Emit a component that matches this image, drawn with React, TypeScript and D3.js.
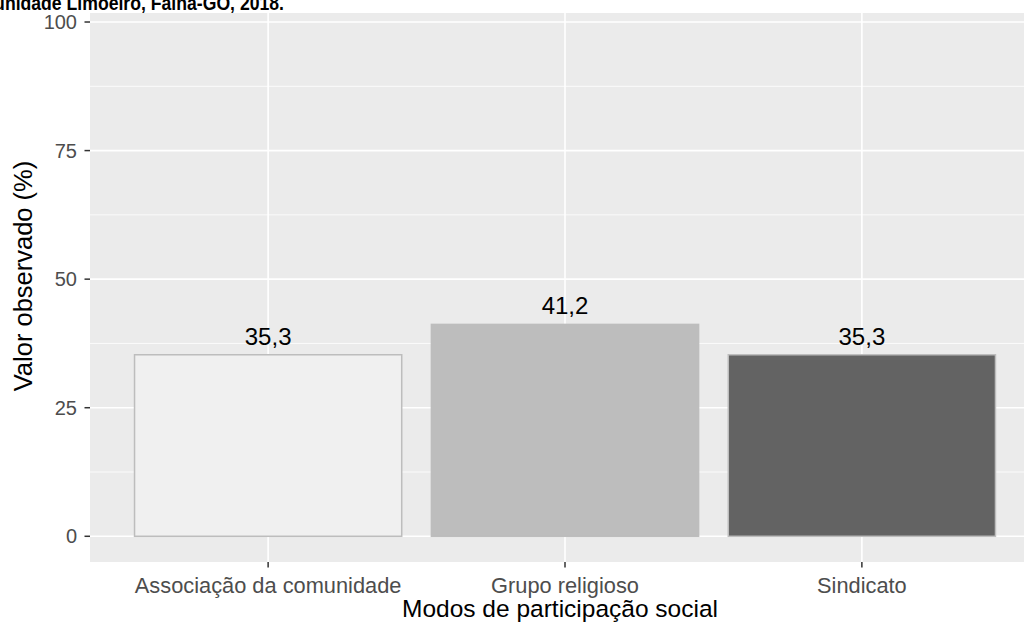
import React from "react";
import * as d3 from "d3";

const categories = ["Associação da comunidade", "Grupo religioso", "Sindicato"];
const values = [35.3, 41.2, 35.3];
const valueLabels = ["35,3", "41,2", "35,3"];
const fills = ["#f0f0f0", "#bdbdbd", "#636363"];
const yTicks = [0, 25, 50, 75, 100];
const yMinor = [12.5, 37.5, 62.5, 87.5];
const titleText = "comunidade Limoeiro, Faina-GO, 2018.";
const xTitle = "Modos de participação social";
const yTitle = "Valor observado (%)";

const W = 1024, H = 626;
const panelLeft = 90, panelRight = 1040, panelBottom = 562, panelTop = 13;

export default function App() {
  const x = d3.scaleBand<string>().domain(categories).range([panelLeft, panelRight]).paddingInner(0.1).paddingOuter(0.15);
  const y = d3.scaleLinear().domain([-5, 105]).range([panelBottom, -3.7]);
  const font = "'Liberation Sans', Arial, sans-serif";
  return (
    <svg width={W} height={H} style={{ position: "absolute", left: 0, top: 0, background: "#fff" }} fontFamily={font}>
      <rect x={panelLeft} y={panelTop} width={W - panelLeft} height={panelBottom - panelTop} fill="#ebebeb" />
      {yMinor.map(t => (
        <line key={"m" + t} x1={panelLeft} x2={W} y1={y(t)} y2={y(t)} stroke="#fff" strokeWidth={0.8} />
      ))}
      {yTicks.map(t => (
        <line key={"g" + t} x1={panelLeft} x2={W} y1={y(t)} y2={y(t)} stroke="#fff" strokeWidth={1.6} />
      ))}
      {categories.map(c => (
        <line key={"v" + c} x1={x(c)! + x.bandwidth() / 2} x2={x(c)! + x.bandwidth() / 2} y1={panelTop} y2={panelBottom} stroke="#fff" strokeWidth={1.6} />
      ))}
      {categories.map((c, i) => (
        <rect key={"b" + c} x={x(c)!} width={x.bandwidth()} y={y(values[i])} height={y(0) - y(values[i])} fill={fills[i]} stroke="#bdbdbd" strokeWidth={1.5} />
      ))}
      {categories.map((c, i) => (
        <text key={"l" + c} x={x(c)! + x.bandwidth() / 2} y={y(values[i]) - 10} textAnchor="middle" fontSize={24} fill="#000">{valueLabels[i]}</text>
      ))}
      {yTicks.map(t => (
        <g key={"t" + t}>
          <line x1={84.5} x2={panelLeft} y1={y(t)} y2={y(t)} stroke="#333" strokeWidth={1.5} />
          <text x={77} y={y(t)} dy="0.35em" textAnchor="end" fontSize={20} fill="#4d4d4d">{t}</text>
        </g>
      ))}
      {categories.map(c => (
        <g key={"xt" + c}>
          <line x1={x(c)! + x.bandwidth() / 2} x2={x(c)! + x.bandwidth() / 2} y1={panelBottom} y2={567.5} stroke="#333" strokeWidth={1.5} />
          <text x={x(c)! + x.bandwidth() / 2} y={592.5} textAnchor="middle" fontSize={21.8} fill="#4d4d4d">{c}</text>
        </g>
      ))}
      <text x={560} y={617} textAnchor="middle" fontSize={24.5} fill="#000">{xTitle}</text>
      <text transform={`translate(32, 276) rotate(-90)`} textAnchor="middle" fontSize={25.5} fill="#000">{yTitle}</text>
      <rect x={0} y={0} width={W} height={panelTop} fill="#fff" />
      <text transform="translate(284, 10) scale(0.84, 1)" x={0} y={0} textAnchor="end" fontSize={21} fontWeight="bold" fill="#000">{titleText}</text>
    </svg>
  );
}
